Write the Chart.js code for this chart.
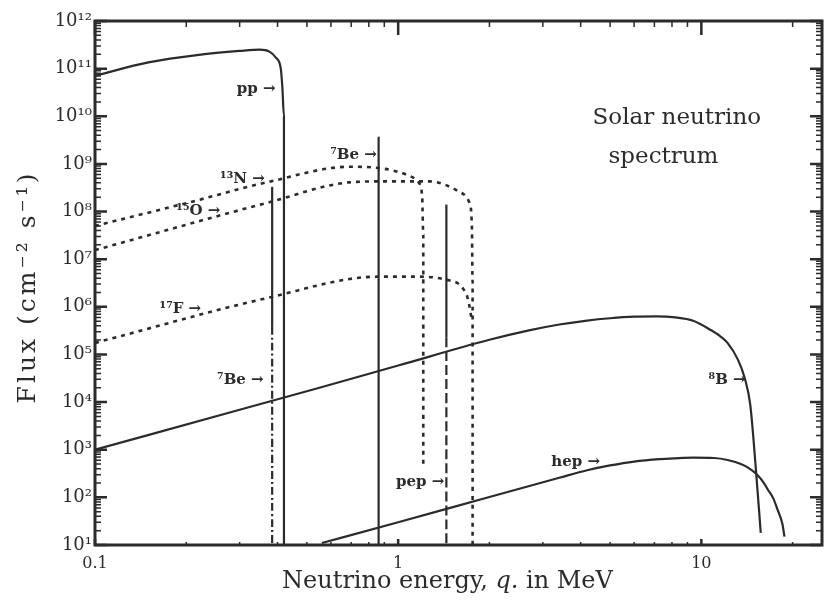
<!DOCTYPE html>
<html>
<head>
<meta charset="utf-8">
<title>Solar neutrino spectrum</title>
<script src="https://cdn.jsdelivr.net/npm/chart.js@4.4.1/dist/chart.umd.min.js"></script>
<style>
    html, body { margin: 0; padding: 0; background: #fff; }
    #chartContainer { width: 824px; height: 607px; }
</style>
</head>
<body>
<div id="chartContainer"><canvas id="myChart" width="824" height="607"></canvas></div>
<script>
// Energies in MeV, fluxes in cm^-2 s^-1 (per MeV for the continuous spectra)
const ppEnergy = [0.1, 0.15, 0.22, 0.3, 0.35, 0.375, 0.395, 0.41, 0.415, 0.42, 0.42];
const ppFlux = [7.1e10, 1.35e11, 1.95e11, 2.35e11, 2.5e11, 2.3e11, 1.7e11, 1.0e11, 4e10, 1e10, 10];

const n13Energy = [0.1, 0.2, 0.38, 0.69, 0.9, 1.09, 1.17, 1.2, 1.21, 1.21];
const n13Flux = [5.0e7, 1.5e8, 4.3e8, 8.7e8, 7.9e8, 5.6e8, 4.0e8, 2.0e8, 3.2e7, 500];

const o15Energy = [0.1, 0.38, 0.69, 0.9, 1.27, 1.62, 1.72, 1.75, 1.76, 1.76];
const o15Flux = [1.55e7, 1.6e8, 4.1e8, 4.3e8, 4.3e8, 2.45e8, 1.5e8, 5e7, 3.2e6, 10];

const f17Energy = [0.1, 0.373, 0.86, 1.14, 1.44, 1.68, 1.72, 1.75];
const f17Flux = [1.75e5, 1.55e6, 4.3e6, 4.3e6, 3.7e6, 1.8e6, 1.0e6, 5e5];

const b8Energy = [0.1, 0.3, 0.55, 1, 2, 2.7, 3.4, 4.2, 5, 6, 7.1, 8.2, 9.4, 10.7, 11.5, 12.2, 13.2, 13.9, 14.5, 15.1, 15.7];
const b8Flux = [1.0e3, 6.9e3, 2.0e4, 5.85e4, 2.03e5, 3.2e5, 4.25e5, 5.15e5, 5.75e5, 6.2e5, 6.3e5, 6.0e5, 5.1e5, 3.3e5, 2.45e5, 1.75e5, 7.8e4, 3.2e4, 8.7e3, 460, 18];

const hepEnergy = [0.56, 1, 2, 3.4, 4.2, 5, 6, 7.3, 8.2, 9.4, 11, 12.2, 13.5, 14.3, 15.3, 16, 16.6, 17.3, 17.8, 18.5, 18.8];
const hepFlux = [11, 30, 102, 258, 371, 468, 565, 635, 660, 680, 670, 610, 500, 415, 295, 210, 143, 93, 57, 28, 15];

// line sources (vertical lines)
const be7HighEnergy = [0.862, 0.862];
const be7HighFlux = [3.7e9, 10];
const be7LowEnergy = [0.384, 0.384, 0.384];
const be7LowFlux = [3.3e8, 3.8e5, 10];
const pepEnergy = [1.442, 1.442, 1.442];
const pepFlux = [1.4e8, 2.3e5, 10];

// axis ticks
const xTickValues = [0.1, 1, 10];
const xTickLabels = ['0.1', '1', '10'];
const yTickValues = [1e1, 1e2, 1e3, 1e4, 1e5, 1e6, 1e7, 1e8, 1e9, 1e10, 1e11, 1e12];
const yTickLabels = ['10¹', '10²', '10³', '10⁴', '10⁵', '10⁶', '10⁷', '10⁸', '10⁹', '10¹⁰', '10¹¹', '10¹²'];

// arrow labels, anchored at the arrow tip
const labelText = ['pp →', '⁷Be →', '¹³N →', '¹⁵O →', '¹⁷F →', '⁷Be →', '⁸B →', 'pep →', 'hep →'];
const labelEnergy = [0.394, 0.85, 0.363, 0.259, 0.224, 0.36, 14.0, 1.42, 4.63];
const labelFlux = [3.8e10, 1.55e9, 4.7e8, 1.0e8, 9.1e5, 2.95e4, 2.95e4, 210, 550];

const titleLines = ['Solar neutrino', 'spectrum'];
const titleEnergy = [8.3, 7.5];
const titleFlux = [9.3e9, 1.4e9];

const xTitleParts = ['Neutrino energy, ', 'q.', ' in MeV'];
const yTitle = 'Flux (cm⁻² s⁻¹)';

const ink = '#2b2b2b';

function toPoints(xs, ys) {
    return xs.map((x, i) => ({ x: x, y: ys[i] }));
}

function lineSet(label, xs, ys, opts) {
    return Object.assign({
        label: label,
        data: toPoints(xs, ys),
        showLine: true,
        borderColor: ink,
        borderWidth: 2.2,
        pointRadius: 0,
        fill: false,
        cubicInterpolationMode: 'monotone'
    }, opts || {});
}

const dotted = { borderDash: [4, 5], borderWidth: 2.6 };

// frame, inward ticks and all the free text
const decorPlugin = {
    id: 'decor',
    afterDraw(chart) {
        const { ctx, chartArea: a, scales: { x, y } } = chart;
        ctx.save();
        ctx.strokeStyle = ink;
        ctx.fillStyle = ink;

        ctx.lineWidth = 3;
        ctx.strokeRect(a.left, a.top, a.right - a.left, a.bottom - a.top);

        // y ticks on both sides
        for (let e = 1; e <= 12; e++) {
            for (let m = 1; m <= 9; m++) {
                if (e === 12 && m > 1) break;
                const py = y.getPixelForValue(m * Math.pow(10, e));
                const major = m === 1;
                const len = major ? 12 : 6;
                ctx.lineWidth = major ? 2.5 : 1.5;
                ctx.beginPath();
                ctx.moveTo(a.left, py); ctx.lineTo(a.left + len, py);
                ctx.moveTo(a.right, py); ctx.lineTo(a.right - len, py);
                ctx.stroke();
            }
        }

        // x ticks top and bottom
        for (let e = -1; e <= 1; e++) {
            for (let m = 1; m <= 9; m++) {
                const v = m * Math.pow(10, e);
                if (v > 25) break;
                const px = x.getPixelForValue(v);
                const major = m === 1;
                ctx.lineWidth = major ? 2.5 : 1.5;
                ctx.beginPath();
                ctx.moveTo(px, a.top); ctx.lineTo(px, a.top + (major ? 14 : 6));
                ctx.moveTo(px, a.bottom); ctx.lineTo(px, a.bottom - (major ? 6 : 3));
                ctx.stroke();
            }
        }

        // arrow labels
        ctx.font = 'bold 15px "DejaVu Serif"';
        ctx.textAlign = 'right';
        ctx.textBaseline = 'middle';
        labelText.forEach((t, i) => {
            ctx.fillText(t, x.getPixelForValue(labelEnergy[i]), y.getPixelForValue(labelFlux[i]));
        });

        // in-plot title
        ctx.font = '23px "DejaVu Serif"';
        ctx.textAlign = 'center';
        titleLines.forEach((t, i) => {
            ctx.fillText(t, x.getPixelForValue(titleEnergy[i]), y.getPixelForValue(titleFlux[i]));
        });

        // x axis title, q in italics
        const fonts = ['24px "DejaVu Serif"', 'italic 24px "DejaVu Serif"', '24px "DejaVu Serif"'];
        let total = 0;
        xTitleParts.forEach((p, i) => { ctx.font = fonts[i]; total += ctx.measureText(p).width; });
        let cx = (a.left + a.right) / 2 - 11 - total / 2;
        const cy = a.bottom + 37;
        ctx.textAlign = 'left';
        xTitleParts.forEach((p, i) => {
            ctx.font = fonts[i];
            ctx.fillText(p, cx, cy);
            cx += ctx.measureText(p).width;
        });

        // y axis title, rotated
        ctx.save();
        ctx.translate(28, (a.top + a.bottom) / 2 + 4);
        ctx.rotate(-Math.PI / 2);
        ctx.font = '25px "DejaVu Serif"';
        ctx.letterSpacing = '3px';
        ctx.textAlign = 'center';
        ctx.fillText(yTitle, 0, 0);
        ctx.restore();

        ctx.restore();
    }
};

const canvas = document.getElementById('myChart');

new Chart(canvas, {
    type: 'scatter',
    data: {
        datasets: [
            lineSet('pp', ppEnergy, ppFlux),
            lineSet('13N', n13Energy, n13Flux, dotted),
            lineSet('15O', o15Energy, o15Flux, dotted),
            lineSet('17F', f17Energy, f17Flux, dotted),
            lineSet('8B', b8Energy, b8Flux),
            lineSet('hep', hepEnergy, hepFlux),
            lineSet('7Be 0.862', be7HighEnergy, be7HighFlux),
            lineSet('7Be 0.384', be7LowEnergy, be7LowFlux, {
                segment: { borderDash: c => c.p0DataIndex === 1 ? [8, 3, 2, 3] : undefined }
            }),
            lineSet('pep', pepEnergy, pepFlux, {
                segment: { borderDash: c => c.p0DataIndex === 1 ? [10, 4] : undefined }
            })
        ]
    },
    options: {
        responsive: false,
        animation: false,
        layout: { padding: { top: 21, right: 2, left: 0, bottom: 0 } },
        plugins: {
            legend: { display: false },
            tooltip: { enabled: false }
        },
        scales: {
            x: {
                type: 'logarithmic',
                min: 0.1,
                max: 25,
                afterBuildTicks: scale => { scale.ticks = xTickValues.map(v => ({ value: v })); },
                afterFit: scale => { scale.height = 62; },
                grid: { display: false, drawTicks: false },
                border: { display: false },
                ticks: {
                    color: ink,
                    padding: 9,
                    autoSkip: false,
                    maxRotation: 0,
                    font: { family: 'DejaVu Serif', size: 16 },
                    callback: (value, index) => xTickLabels[index]
                }
            },
            y: {
                type: 'logarithmic',
                min: 10,
                max: 1e12,
                afterBuildTicks: scale => { scale.ticks = yTickValues.map(v => ({ value: v })); },
                afterFit: scale => { scale.width = 95; },
                grid: { display: false, drawTicks: false },
                border: { display: false },
                ticks: {
                    color: ink,
                    padding: 3,
                    autoSkip: false,
                    font: { family: 'DejaVu Serif', size: 18 },
                    callback: (value, index) => yTickLabels[index]
                }
            }
        }
    },
    plugins: [decorPlugin]
});
</script>
</body>
</html>
